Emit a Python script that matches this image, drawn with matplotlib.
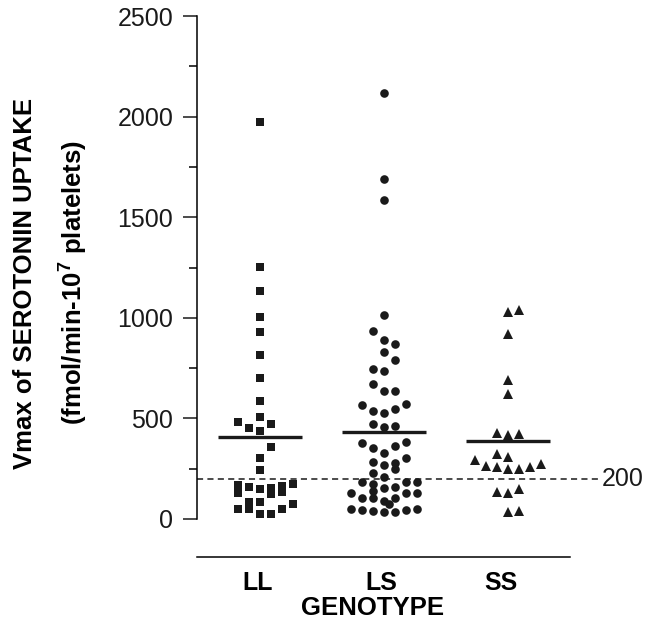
import numpy as np
import matplotlib
matplotlib.use("Agg")
import matplotlib.pyplot as plt

plt.rcParams['font.family'] = ['Liberation Sans', 'DejaVu Sans']
plt.rcParams['mathtext.fontset'] = 'custom'
plt.rcParams['mathtext.rm'] = 'Liberation Sans'
plt.rcParams['mathtext.bf'] = 'Liberation Sans:bold'

# Genotype groups
genotypes = ['LL', 'LS', 'SS']

# Vmax values, with the column slot each dot sits in
ll_vals = [1971, 1254, 1135, 1002, 928, 815, 701, 588, 505, 437, 302, 244, 148, 86, 25,
           451, 157, 86, 48,
           480, 169, 131, 50,
           474, 358, 152, 124, 25,
           164, 136, 48,
           174, 75]
ll_slot = [0] * 15 + [-1] * 4 + [-2] * 4 + [1] * 5 + [2] * 3 + [3] * 2

ls_vals = [2116, 1690, 1585, 1014, 890, 828, 737, 638, 525, 456, 330, 268, 210, 152, 91, 33,
           934, 745, 669, 537, 471, 351, 282, 227, 172, 141, 103, 40,
           870, 790, 638, 547, 462, 363, 280, 248, 160, 106, 36,
           565, 376, 182, 103, 45,
           572, 381, 302, 182, 131, 45,
           185, 131, 50,
           131, 50,
           75]
ls_slot = [0] * 16 + [-1] * 12 + [1] * 11 + [-2] * 5 + [2] * 6 + [3] * 3 + [-3] * 2 + [0.5]

ss_vals = [1027, 919, 691, 620, 417, 310, 247, 131, 36,
           1039, 422, 247, 148, 41,
           426, 321, 257, 136,
           263, 292, 257, 272]
ss_slot = [0] * 9 + [1] * 5 + [-1] * 4 + [-2, -3, 2, 3]

cutoff = 200

fig = plt.figure(figsize=(6.49, 6.26), dpi=100)
ax = fig.add_axes([0.3035, 0.1099, 0.6225, 0.8645])

groups = [(ll_vals, ll_slot, 's', 5.8), (ls_vals, ls_slot, 'o', 6.2), (ss_vals, ss_slot, '^', 6.6)]
step = 0.089
for i, (vals, slots, mk, ms) in enumerate(groups):
    xs = i + np.array(slots) * step
    ax.plot(xs, vals, linestyle='none', marker=mk, markersize=ms,
            color='#1a1a1a', markeredgewidth=0, clip_on=False)
    m = np.mean(vals)
    ax.plot([i - 0.34, i + 0.34], [m, m], color='#1a1a1a', lw=2.4, solid_capstyle='butt')

# cutoff line
ax.plot([-0.508, 2.73], [cutoff, cutoff], color='#1a1a1a', lw=1.1,
        linestyle=(0, (4, 2.8)), clip_on=False)
ax.text(2.76, cutoff, '200', fontsize=18, va='center', ha='left', color='#1a1a1a')

ax.set_xlim(-0.508, 2.75)
ax.set_ylim(-190, 2500)

for s in ['top', 'right']:
    ax.spines[s].set_visible(False)
ax.spines['left'].set_bounds(0, 2500)
ax.spines['bottom'].set_bounds(-0.508, 2.5)
ax.spines['left'].set_linewidth(1.1)
ax.spines['bottom'].set_linewidth(1.1)

ax.set_yticks(np.arange(0, 2501, 500))
ax.set_yticks(np.arange(250, 2500, 500), minor=True)
ax.tick_params(axis='y', which='major', length=10, width=1.1, labelsize=18, pad=7, colors='#1a1a1a')
ax.tick_params(axis='y', which='minor', length=6, width=1.1)

ax.set_xticks([-0.02, 0.98, 1.94])
ax.set_xticklabels(genotypes, fontsize=18, fontweight='bold')
ax.tick_params(axis='x', length=0, pad=10)

fig.text(373 / 649, 1 - 608 / 626, 'GENOTYPE', fontsize=18.5, fontweight='bold',
         ha='center', va='center')
fig.text(25 / 649, 1 - 283 / 626, 'Vmax of SEROTONIN UPTAKE', fontsize=18.5, fontweight='bold',
         rotation=90, ha='center', va='center')
fig.text(73 / 649, 1 - 283 / 626, r'(fmol/min-10$^{\mathbf{7}}$ platelets)', fontsize=18.5,
         fontweight='bold', rotation=90, ha='center', va='center')

fig.savefig('out.png', dpi=100)
